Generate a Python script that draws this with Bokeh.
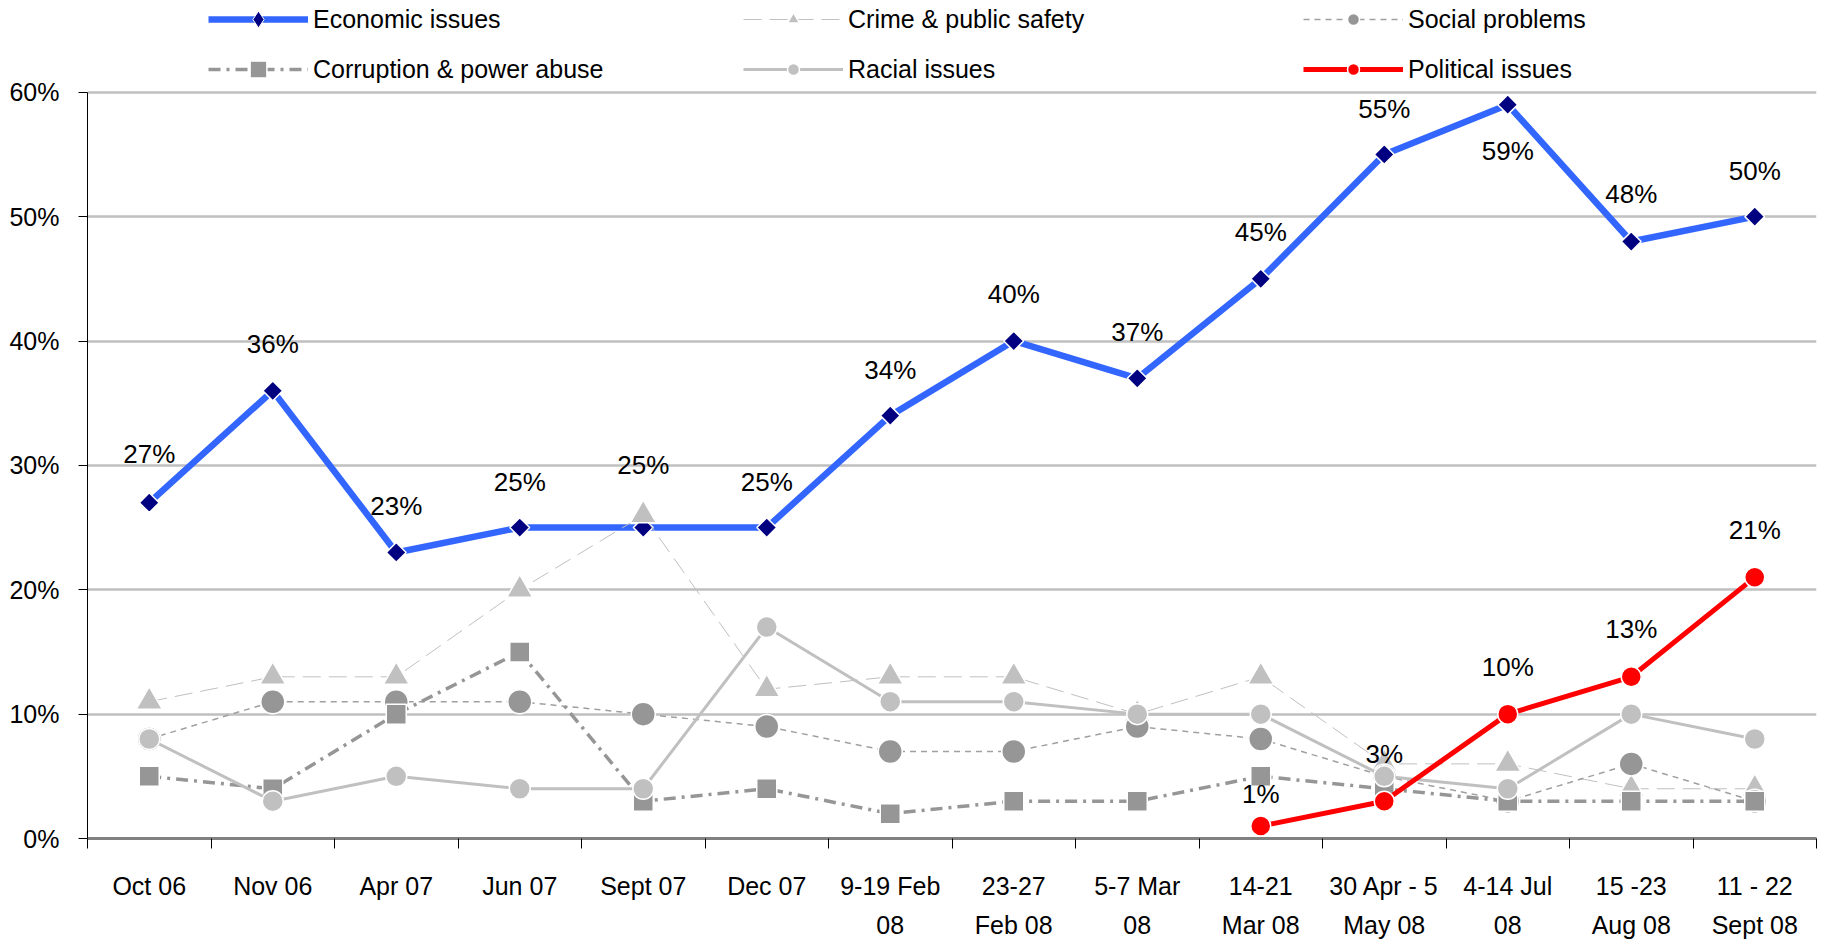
import numpy as np
from bokeh.plotting import figure
from bokeh.models import (Range1d, FixedTicker, LinearAxis, CustomJSTickFormatter,
                          PrintfTickFormatter, Legend, LegendItem, Grid, ColumnDataSource)
from bokeh.core.properties import value
from bokeh.embed import file_html
from bokeh.resources import INLINE

# ---------------- data ----------------
periods = ["Oct 06", "Nov 06", "Apr 07", "Jun 07", "Sept 07", "Dec 07",
           "9-19 Feb\n08", "23-27\nFeb 08", "5-7 Mar\n08", "14-21\nMar 08",
           "30 Apr - 5\nMay 08", "4-14 Jul\n08", "15 -23\nAug 08", "11 - 22\nSept 08"]
economic = [27, 36, 23, 25, 25, 25, 34, 40, 37, 45, 55, 59, 48, 50]
crime = [11, 13, 13, 20, 26, 12, 13, 13, 10, 13, 6, 6, 4, 4]
social = [8, 11, 11, 11, 10, 9, 7, 7, 9, 8, 5, 3, 6, 3]
corruption = [5, 4, 10, 15, 3, 4, 2, 3, 3, 5, 4, 3, 3, 3]
racial = [8, 3, 5, 4, 4, 17, 11, 11, 10, 10, 5, 4, 10, 8]
political = [None, None, None, None, None, None, None, None, None, 1, 3, 10, 13, 21]
y_ticks = [0, 10, 20, 30, 40, 50, 60]

# ---------------- style / layout ----------------
FONT = "Liberation Sans"
W, H = 1830, 941
B_LEFT, B_RIGHT, B_TOP, B_BOTTOM = 87, 14, 0, 101
frame_h = H - B_TOP - B_BOTTOM
px_per_unit = (frame_h - 92) / 60.0
ymax = frame_h / px_per_unit

econ_dy = [-49, -47, -46, -46, -63, -46, -46, -47, -46, -47, -45, 46, -48, -46]
pol_dy = [-32, -47, -47, -48, -47]

x = np.arange(len(periods)) + 0.5


def arr(v):
    return np.array([np.nan if a is None else a for a in v], dtype=float)


p = figure(width=W, height=H, x_range=Range1d(0, len(periods)), y_range=Range1d(0, ymax),
           output_backend="svg", toolbar_location=None, x_axis_type=None, y_axis_type=None,
           min_border_left=B_LEFT, min_border_right=B_RIGHT, min_border_top=B_TOP,
           min_border_bottom=B_BOTTOM)
p.outline_line_color = None
p.background_fill_color = "white"

grid = Grid(dimension=1, ticker=FixedTicker(ticks=y_ticks[1:]),
            grid_line_color="#c0c0c0", grid_line_width=2.5)
p.add_layout(grid)

yaxis = LinearAxis(ticker=FixedTicker(ticks=y_ticks), formatter=PrintfTickFormatter(format="%d%%"),
                   bounds=(0, 60), major_tick_out=9, major_tick_in=0, minor_tick_out=0,
                   axis_line_color="black", axis_line_width=1, major_tick_line_color="black",
                   major_label_text_font=FONT, major_label_text_font_size="25px",
                   major_label_text_color="black", major_label_standoff=19)
p.add_layout(yaxis, "left")

# labels at category centres (major ticks, invisible); tick marks at boundaries (minor ticks)
xaxis = LinearAxis(ticker=FixedTicker(ticks=list(x), minor_ticks=list(range(len(periods) + 1))),
                   formatter=CustomJSTickFormatter(args=dict(labels=periods),
                                                   code="return labels[Math.floor(tick)]"),
                   major_tick_out=0, major_tick_in=0, minor_tick_out=10, minor_tick_in=0,
                   axis_line_color="#808080", axis_line_width=3,
                   minor_tick_line_color="black", minor_tick_line_width=1,
                   major_label_text_font=FONT, major_label_text_font_size="25px",
                   major_label_text_color="black", major_label_standoff=23,
                   major_label_text_line_height=1.4)
p.add_layout(xaxis, "below")

# economic
l_econ = p.line(x, economic, line_color="#3366ff", line_width=6.5)
s_econ = p.scatter(x, economic, marker="square", angle=np.pi / 4, size=14,
                   fill_color="#000080", line_color="white", line_width=1.5)
# crime
l_crime = p.line(x, crime, line_color="#c0c0c0", line_width=1, line_dash="18 8")
s_crime = p.scatter(x, crime, marker="triangle", size=26, fill_color="#c0c0c0",
                    line_color="white", line_width=1.5)
# social
l_soc = p.line(x, social, line_color="#a0a0a0", line_width=1.5, line_dash="6 5")
s_soc = p.scatter(x, social, marker="circle", size=24, fill_color="#969696",
                  line_color="white", line_width=1.5)
# corruption
l_cor = p.line(x, corruption, line_color="#969696", line_width=3.5, line_dash="12 6 3 6")
s_cor = p.scatter(x, corruption, marker="square", size=20, fill_color="#969696",
                  line_color="white", line_width=1.5)
# racial
l_rac = p.line(x, racial, line_color="#c0c0c0", line_width=3)
s_rac = p.scatter(x, racial, marker="circle", size=21, fill_color="#c0c0c0",
                  line_color="white", line_width=1.5)
# political
pol = arr(political)
l_pol = p.line(x, pol, line_color="#ff0000", line_width=5)
s_pol = p.scatter(x, pol, marker="circle", size=20, fill_color="#ff0000",
                  line_color="white", line_width=1.5)

# legend-only diamond key (not drawn in the plot: NaN position)
econ_key = p.scatter(x=[np.nan], y=[np.nan], marker="diamond", size=14, fill_color="#000080",
                     line_color="white", line_width=1)

# labels
econ_src = ColumnDataSource(dict(x=x, y=economic, t=[f"{v}%" for v in economic], dy=econ_dy))
p.text(x="x", y="y", text="t", y_offset="dy", source=econ_src, text_align="center",
       text_baseline="middle", text_font=value(FONT), text_font_size="26px", text_color="black")
pol_idx = [i for i, v in enumerate(political) if v is not None]
pol_src = ColumnDataSource(dict(x=x[pol_idx], y=[political[i] for i in pol_idx],
                                t=[f"{political[i]}%" for i in pol_idx], dy=pol_dy))
p.text(x="x", y="y", text="t", y_offset="dy", source=pol_src, text_align="center",
       text_baseline="middle", text_font=value(FONT), text_font_size="26px", text_color="black")

columns = [
    [("Economic issues", [l_econ, econ_key]), ("Corruption & power abuse", [l_cor, s_cor])],
    [("Crime & public safety", [l_crime, s_crime]), ("Racial issues", [l_rac, s_rac])],
    [("Social problems", [l_soc, s_soc]), ("Political issues", [l_pol, s_pol])],
]
col_x = [121, 656, 1216]
col_glyph_h = [42, 30, 30]
ROW_PITCH = 50
ROW1_CENTER = 21
for cx, gh, col in zip(col_x, col_glyph_h, columns):
    spacing = ROW_PITCH - gh
    leg_h = 2 * gh + spacing
    top = ROW1_CENTER - gh / 2
    leg = Legend(items=[LegendItem(label=lab, renderers=r) for lab, r in col],
                 orientation="vertical", location=(cx, frame_h - top - leg_h),
                 glyph_width=100, glyph_height=gh, label_height=gh, label_standoff=5,
                 spacing=spacing, padding=0, margin=0, border_line_alpha=0,
                 background_fill_alpha=0, label_text_font=FONT,
                 label_text_font_size="25px", label_text_color="black")
    p.add_layout(leg)

open("out.html", "w").write(file_html(p, INLINE))
